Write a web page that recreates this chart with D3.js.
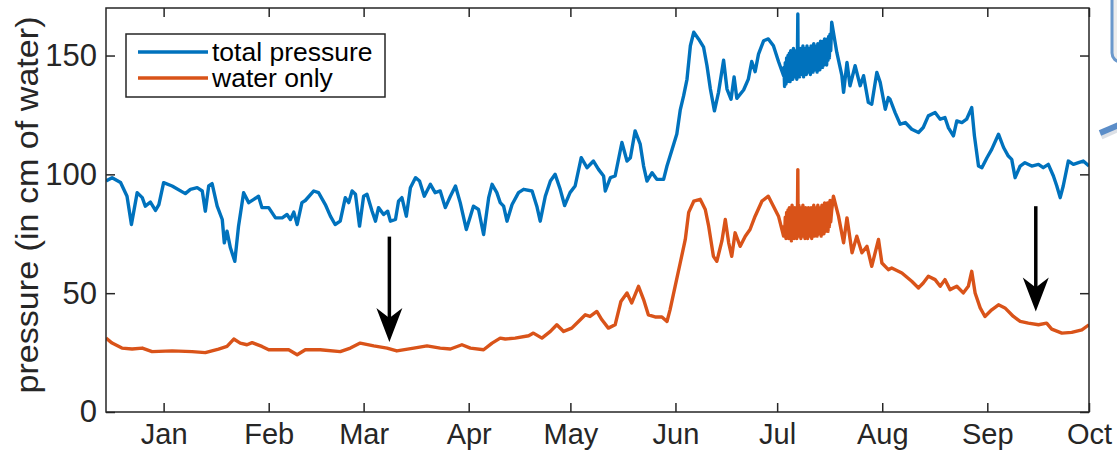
<!DOCTYPE html>
<html>
<head>
<meta charset="utf-8">
<script src="https://cdn.jsdelivr.net/npm/d3@7"></script>
<style>
  body { margin: 0; background: #fff; }
  svg { display: block; font-family: "Liberation Sans", Arial, Helvetica, sans-serif; }
</style>
</head>
<body>
<svg id="chart" width="1117" height="450"></svg>
<script>
// ---- data: days counted from 1 Jan (negative = December of previous year) ----
const totalDays = [
  -17, -15.2, -12.7, -10.8, -9.5, -7.8, -6.3, -5.4, -3.9, -2.4, -1.4, 0, 2.5, 6.4, 7.9, 9.9, 11.4, 12.3, 13.3, 14.3,
  15.8, 17.3, 17.9, 18.7, 19.7, 21, 22.1, 23.6, 25.1, 26.6, 28, 29, 31, 33, 35, 36.4, 37.4, 38.4, 39.4, 40.8,
  41.8, 44.3, 45.7, 47.7, 49.2, 50.6, 52.1, 53.6, 54.6, 55.6, 56.6, 57.8, 59, 60, 61.5, 62.5, 63.4, 64.9, 66.1, 66.9,
  68.4, 69.3, 70.3, 71.6, 72.8, 74.3, 75.5, 76.9, 78.7, 80.1, 81.6, 83.1, 84.6, 86.1, 87.5, 89.3, 90.5, 91.4, 92.9, 94.4,
  95.9, 96.9, 98.3, 99.3, 100.3, 101.3, 102.8, 104.7, 106.2, 108.7, 110.1, 111.1, 112.6, 114.1, 115.5, 117, 118.3, 119.9, 121.4, 123.2,
  124.9, 126.8, 128.3, 129.8, 130.3, 131.8, 133.2, 135.2, 136.7, 137.7, 139.1, 140.6, 141.6, 142.6, 144.1, 145.5, 147.5, 148.5, 150, 151.4,
  152.4, 153.4, 154.4, 155.4, 156.4, 157.8, 159.3, 160.3, 161.3, 162.5, 163.7, 165.2, 166.2, 167.4, 168.3, 169.1, 171.1, 172.5, 173.5, 174.5,
  175.5, 177, 178.4, 179.9, 181.4, 182.9,
  183, 183.2, 183.4, 183.6, 183.8, 184, 184.2, 184.4, 184.6, 184.8,
  185, 185.2, 185.4, 185.6, 185.8, 186, 186.2, 186.4, 186.6, 186.8,
  187, 187.1, 187.2, 187.4, 187.6, 187.8, 188, 188.2, 188.4, 188.6,
  188.8, 189, 189.2, 189.4, 189.6, 189.8, 190, 190.2, 190.4, 190.6,
  190.8, 191, 191.2, 191.4, 191.6, 191.8, 192, 192.2, 192.4, 192.6,
  192.8, 193, 193.2, 193.4, 193.6, 193.8, 194, 194.2, 194.4, 194.6,
  194.8, 195, 195.2, 195.4, 195.6, 195.8, 196, 196.2, 196.4, 196.6, 196.8, 197.1,
  198.6, 200.1, 200.6, 201.6, 202.5, 204, 205.5, 206.5, 207.9, 208.9, 210.4, 211.4, 212.9, 213.8, 214.3, 215.8,
  217.3, 218.8, 220.7, 222.7, 224.1, 225.6, 227.6, 229.1, 230.5, 231.5, 233, 234, 235.5, 236.9, 238.4, 239.2, 240.4, 241.4, 242.9, 244.3,
  246.3, 247.8, 249.2, 250.2, 251.2, 252.7, 254.1, 256.1, 258.1, 259.5, 261, 262.5, 263.5, 264.5, 265.4, 266.9, 268.4, 269.9, 271.3, 273
];
const totalValues = [
  97.2, 98.6, 96.6, 90.8, 78.9, 92.3, 90.2, 86.6, 88.3, 84.8, 87.3, 96.5, 95.1, 91.9, 93.7, 94.4, 93, 84.5, 95.1, 96.1,
  86.6, 81, 71.2, 76.1, 69.1, 63.4, 78.2, 92.3, 88.1, 89.5, 90.8, 86, 86, 81.7, 81.7, 83.1, 81, 84.1, 78.9, 88.1,
  89, 93, 92.3, 87.3, 82.4, 78.9, 80.3, 90.2, 88.1, 93, 91.6, 78.2, 90.8, 91.6, 84.5, 80.3, 86, 83.1, 84.5, 80.3,
  81, 88.7, 90.2, 82.4, 94.4, 98.6, 97.2, 90.8, 95.8, 92.3, 93, 86, 90.8, 95.1, 88.1, 76.8, 82.4, 86.6, 85.2, 74.7,
  90.2, 95.8, 92.3, 88.1, 86.6, 80.3, 87.3, 92.3, 93.7, 93, 86.6, 80.3, 90.8, 97.2, 100, 93.7, 86.9, 92.3, 95.1, 107,
  102.8, 105.6, 102.1, 99.3, 93, 98.6, 99.3, 113.4, 105.6, 107, 118.3, 112.7, 103.5, 97.2, 100.7, 97.9, 97.9, 103.5, 110.5, 117,
  127, 133, 140, 154.1, 159.8, 157, 153.5, 145.7, 135.9, 126.7, 134.5, 148, 135.9, 131.6, 141, 132, 135.5, 140.1, 147.5, 143.2,
  150.6, 156.2, 157, 154.1, 147.5, 141.5,
  145, 137, 147, 138, 149, 139, 150, 140, 151, 139,
  152, 141, 151, 140, 153, 142, 151, 141, 152, 140,
  153, 167.5, 142, 152, 141, 153, 143, 151, 142, 154,
  141, 152, 143, 153, 142, 154, 144, 152, 143, 153,
  142, 154, 144, 152, 143, 155, 145, 153, 144, 154,
  143, 155, 145, 153, 144, 156, 146, 154, 145, 156,
  146, 157, 147, 155, 146, 157, 148, 158, 149, 159, 152, 164,
  151.3, 141.5, 134.5, 147.1, 137.3, 145.7, 137.3, 141.5, 130.3, 129.5, 142.9, 138.7, 127.4, 132.3, 131.6, 126,
  121.1, 121.8, 119, 117.6, 119.7, 124.6, 126, 123.2, 123.9, 119.7, 116.2, 122.5, 121.8, 123.2, 128.1, 116.2, 103.5, 102.8, 107, 110.5,
  116.9, 111.3, 107.7, 106.3, 98.6, 103.5, 104.9, 103.5, 104.2, 102.8, 104.2, 99.3, 95.1, 90.2, 95.1, 105.6, 104.2, 104.9, 105.6, 103.5
];

const waterDays = [
  -17, -15.2, -12.3, -9.3, -6.3, -3.4, 2.5, 8.4, 12.3, 16.2, 18.7, 20.7, 22.6, 24.6, 26.1, 29, 31, 33.9, 36.9, 39.4,
  41.8, 46.2, 52.1, 55.1, 58, 62, 65.9, 68.8, 73.8, 77.7, 81.6, 84.6, 88, 90.5, 94.4, 96.9, 99.3, 100.8, 103.7, 107.7,
  109.1, 111.6, 114.1, 116, 118, 120.4, 122.4, 124.4, 125.8, 127.8, 129.3, 131.2, 133.2, 134.9, 136.7, 138.1, 140.1, 141.6, 143, 145,
  147, 148.5, 149.4, 150.9, 152.4, 153.9, 154.9, 156.4, 158.3, 159.8, 160.8, 162.2, 163.2, 164.7, 165.7, 166.7, 167.6, 168.6, 170.1, 171.6,
  173, 174.5, 176.5, 178.4, 179.9, 181.4, 182.9,
  183, 183.2, 183.4, 183.6, 183.8, 184, 184.2, 184.4, 184.6, 184.8,
  185, 185.2, 185.4, 185.6, 185.8, 186, 186.2, 186.4, 186.6, 186.8,
  187, 187.1, 187.2, 187.4, 187.6, 187.8, 188, 188.2, 188.4, 188.6,
  188.8, 189, 189.2, 189.4, 189.6, 189.8, 190, 190.2, 190.4, 190.6,
  190.8, 191, 191.2, 191.4, 191.6, 191.8, 192, 192.2, 192.4, 192.6,
  192.8, 193, 193.2, 193.4, 193.6, 193.8, 194, 194.2, 194.4, 194.6,
  194.8, 195, 195.2, 195.4, 195.6, 195.8, 196, 196.2, 196.4, 196.6, 196.8, 197.1,
  197.6, 199.1, 200.6, 201.6, 203.1, 204.5, 206, 207.5, 208.9, 210.9, 211.9, 213.8,
  214.8, 217.8, 220.7, 222.7, 224.1, 225.6, 227.6, 229.1, 230.5, 232, 234, 235.9, 237.4, 238.4, 239.4, 240.9, 242.3, 244.3, 246.3, 248.2,
  250.7, 252.7, 255.1, 258.1, 260.5, 262, 265, 267.9, 270.9, 273
];
const waterValues = [
  31.1, 29, 26.9, 26.5, 26.9, 25.4, 25.7, 25.4, 25, 26.5, 27.6, 30.7, 29, 28.3, 29.2, 27.6, 26.2, 26.2, 26.2, 24.1,
  26.2, 26.2, 25.4, 26.9, 29, 27.8, 26.9, 25.7, 26.9, 27.8, 26.9, 26.5, 28.3, 26.9, 26.2, 29, 31.1, 30.7, 31.1, 32.1,
  33.2, 31.1, 33.9, 36.7, 33.9, 35.3, 38.1, 40.9, 40.2, 42.3, 38.8, 35.3, 36.7, 46.5, 50.1, 45.9, 52.9, 47.3, 40.9, 40,
  40, 38.1, 43, 52.9, 62.7, 72.6, 84, 88.7, 89.5, 85.2, 78.2, 65.5, 63.4, 72, 81, 71.2, 65.5, 75.4, 69.7, 74,
  76.8, 82.4, 88.7, 90.8, 86.6, 82.4, 74,
  78, 74, 82, 73, 84, 74, 85, 73, 86, 74,
  85, 72, 87, 74, 85, 73, 86, 75, 85, 73,
  86, 102, 74, 87, 75, 85, 73, 86, 74, 87,
  75, 85, 73, 86, 74, 84, 73, 86, 75, 85,
  74, 86, 73, 85, 75, 87, 74, 85, 76, 86,
  74, 87, 75, 85, 76, 86, 74, 87, 76, 86,
  75, 88, 76, 86, 77, 88, 76, 88, 78, 89, 80, 85,
  90.8, 82.4, 71.2, 81.7, 67, 74, 67, 69.7, 61.3, 72.6, 62.7, 59.9,
  60.6, 58.5, 55, 52.2, 54.3, 57.1, 55.7, 52.9, 55.7, 51.5, 52.9, 50.1, 52.9, 59.2, 50.1, 43.8, 40.2, 43, 45.1, 43.8,
  40.2, 38.1, 37.4, 36.7, 37.4, 34.9, 33.2, 33.5, 34.6, 36.7
];

const monthLabels = ["Jan", "Feb", "Mar", "Apr", "May", "Jun", "Jul", "Aug", "Sep", "Oct"];
const yTicks = [0, 50, 100, 150];
const seriesNames = ["total pressure", "water only"];
const seriesColors = ["#0072BD", "#D95319"];

// annotation arrows: day, value at tail, value at head
const arrowDays = [66.6, 257.3];
const arrowFrom = [73.8, 86.6];
const arrowTo = [29.5, 42.3];

// ---- layout ----
const W = 1117, H = 450;
const margin = { left: 106, top: 8, right: 28, bottom: 38 };
const innerW = W - margin.left - margin.right;
const innerH = H - margin.top - margin.bottom;

const year = 2015;
const dayToDate = d => new Date(Date.UTC(year, 0, 1) + d * 86400000);

const x = d3.scaleUtc()
  .domain([dayToDate(-17), dayToDate(273)])
  .range([0, innerW]);
const y = d3.scaleLinear().domain([0, 170]).range([innerH, 0]);

const svg = d3.select("#chart");
const axisColor = "#262626";

// ---- callout fragment at the right edge ----
const deco = svg.append("g");
deco.append("rect")
  .attr("x", W - 2).attr("y", -20).attr("width", 60).attr("height", 85).attr("rx", 9)
  .attr("fill", "#c9c9c9").attr("opacity", 0.6);
deco.append("rect")
  .attr("x", W - 5).attr("y", -20).attr("width", 60).attr("height", 82).attr("rx", 9)
  .attr("fill", "#ececec").attr("stroke", "#6a98cc").attr("stroke-width", 3);
deco.append("line")
  .attr("x1", W - 16).attr("y1", 136).attr("x2", W + 4).attr("y2", 127)
  .attr("stroke", "#c5ccd6").attr("stroke-width", 7).attr("opacity", 0.6);
deco.append("line")
  .attr("x1", W - 17).attr("y1", 133).attr("x2", W + 4).attr("y2", 124)
  .attr("stroke", "#5b8dc8").attr("stroke-width", 6);

const g = svg.append("g").attr("transform", `translate(${margin.left},${margin.top})`);

// ---- axes (box with inward ticks on all four sides) ----
const monthDates = monthLabels.map((m, i) => new Date(Date.UTC(year, i, 1)));
const fmtMonth = d => monthLabels[d.getUTCMonth()];
const tickLen = 9;

const xBottom = d3.axisBottom(x).tickValues(monthDates).tickFormat(fmtMonth)
  .tickSizeInner(-tickLen).tickSizeOuter(0).tickPadding(11);
const xTop = d3.axisTop(x).tickValues(monthDates).tickFormat("")
  .tickSizeInner(-tickLen).tickSizeOuter(0);
const yLeft = d3.axisLeft(y).tickValues(yTicks)
  .tickSizeInner(-tickLen).tickSizeOuter(0).tickPadding(9);
const yRight = d3.axisRight(y).tickValues(yTicks).tickFormat("")
  .tickSizeInner(-tickLen).tickSizeOuter(0);

function styleAxis(sel, size) {
  sel.select(".domain").remove();
  sel.selectAll("line").attr("stroke", axisColor).attr("stroke-width", 1.5);
  sel.selectAll("text").attr("fill", axisColor).style("font-size", size + "px");
}
g.append("g").attr("transform", `translate(0,${innerH})`).call(xBottom).call(styleAxis, 29);
g.append("g").call(xTop).call(styleAxis, 29);
g.append("g").call(yLeft).call(styleAxis, 31);
g.append("g").attr("transform", `translate(${innerW},0)`).call(yRight).call(styleAxis, 29);

// ---- series ----
const clip = g.append("clipPath").attr("id", "plotClip");
clip.append("rect").attr("width", innerW).attr("height", innerH);

const line = d3.line()
  .x(d => x(dayToDate(d[0])))
  .y(d => y(d[1]));

const series = [
  d3.zip(totalDays, totalValues),
  d3.zip(waterDays, waterValues)
];
g.append("g").attr("clip-path", "url(#plotClip)")
  .selectAll("path").data(series).join("path")
  .attr("d", line)
  .attr("fill", "none")
  .attr("stroke", (d, i) => seriesColors[i])
  .attr("stroke-width", 3.4)
  .attr("stroke-linejoin", "round");

// box frame
g.append("rect").attr("width", innerW).attr("height", innerH)
  .attr("fill", "none").attr("stroke", axisColor).attr("stroke-width", 1.5);

// ---- arrows ----
const arrows = d3.range(arrowDays.length).map(i => ({ day: arrowDays[i], from: arrowFrom[i], to: arrowTo[i] }));
const ag = g.append("g").selectAll("g").data(arrows).join("g");
ag.append("line")
  .attr("x1", d => x(dayToDate(d.day))).attr("x2", d => x(dayToDate(d.day)))
  .attr("y1", d => y(d.from)).attr("y2", d => y(d.to) - 20)
  .attr("stroke", "#000").attr("stroke-width", 3.5);
ag.append("path")
  .attr("d", d => {
    const cx = x(dayToDate(d.day)), ty = y(d.to);
    return `M${cx},${ty} L${cx - 13},${ty - 34} L${cx},${ty - 24} L${cx + 13},${ty - 34} Z`;
  })
  .attr("fill", "#000");

// ---- legend ----
const lg = g.append("g").attr("transform", "translate(20,26)");
lg.append("rect").attr("width", 259).attr("height", 63)
  .attr("fill", "#fff").attr("stroke", axisColor).attr("stroke-width", 1.5);
const items = lg.selectAll("g").data(seriesNames).join("g")
  .attr("transform", (d, i) => `translate(0,${18 + i * 26})`);
items.append("line").attr("x1", 12).attr("x2", 82)
  .attr("stroke", (d, i) => seriesColors[i]).attr("stroke-width", 3.4);
items.append("text").attr("x", 86).attr("dy", "0.35em")
  .attr("fill", "#000").style("font-size", "26.5px").text(d => d);

// ---- y label (slightly stretched along its reading direction) ----
svg.append("text")
  .attr("transform", `translate(27,${margin.top + innerH / 2 - 5}) rotate(-90) scale(1.1,1)`)
  .attr("text-anchor", "middle").attr("dy", "0.35em")
  .attr("fill", axisColor).style("font-size", "31px")
  .text("pressure (in cm of water)");
</script>
</body>
</html>
